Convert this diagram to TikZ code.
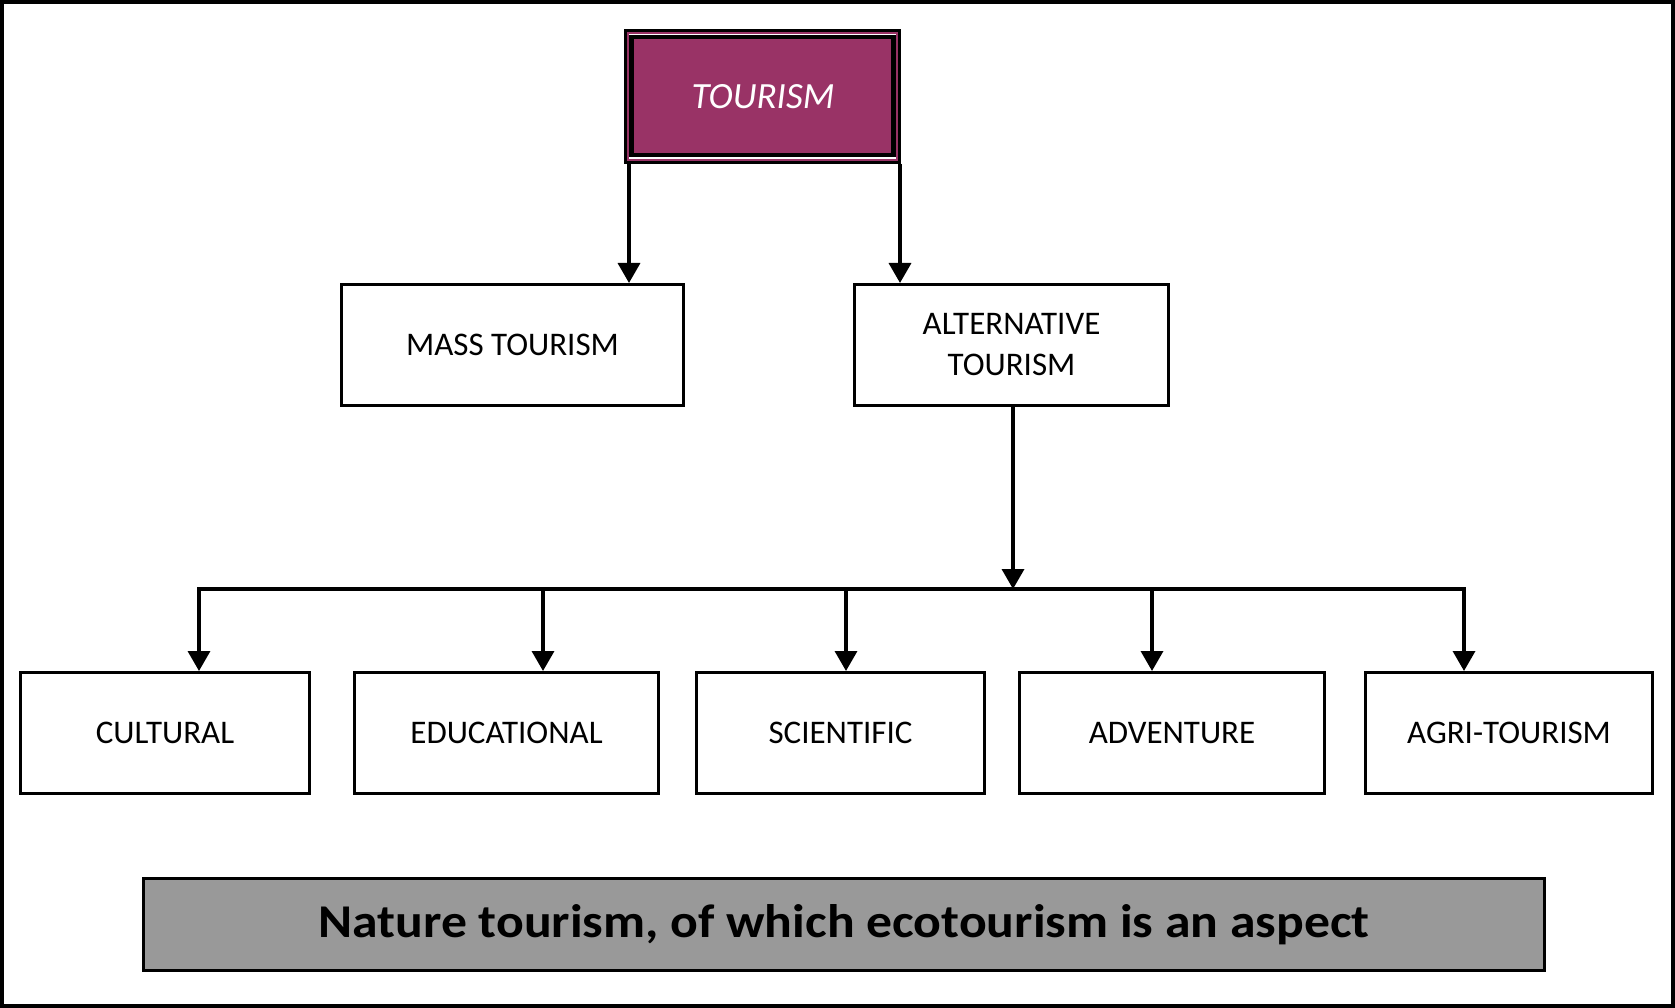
\documentclass[tikz,border=0pt]{standalone}
\usepackage{fontspec}
\setmainfont{Carlito}
\newfontfamily\widebold[FakeStretch=1.1]{Carlito Bold}
\usetikzlibrary{arrows.meta}
\definecolor{plum}{RGB}{153,51,102}
\definecolor{boxgray}{RGB}{153,153,153}
\begin{document}
\begin{tikzpicture}[x=1pt,y=-1pt,
  box/.style={draw=black,line width=3pt,fill=white,inner sep=0pt,align=center,
    font=\fontsize{33}{41}\selectfont},
  conn/.style={line width=3.5pt},
  arr/.style={conn,-{Triangle[length=20pt,width=22pt]}}]
\useasboundingbox (0,0) rectangle (1675,1008);
\draw[line width=4pt] (2,2) rectangle (1673,1006);
% TOURISM
\node[draw=black,line width=3pt,fill=white,minimum width=274pt,minimum height=132pt,inner sep=0pt] (tour) at (762.5,96.5) {};
\draw[plum,line width=1.5pt] ([shift={(4,4)}]tour.north west) rectangle ([shift={(-4,-4)}]tour.south east);
\draw[black,line width=4.5pt,fill=plum] ([shift={(7.5,8)}]tour.north west) rectangle ([shift={(-7.5,-9)}]tour.south east);
\node[text=white,font=\fontsize{37}{44}\selectfont\itshape] (tourtxt) at (763,97) {TOURISM};
% second level
\node[box,minimum width=342pt,minimum height=121pt] (mass) at (512.5,345) {MASS TOURISM};
\node[box,minimum width=314pt,minimum height=121pt] (alt) at (1011.5,345) {ALTERNATIVE\\TOURISM};
% third level
\node[box,minimum width=289pt,minimum height=121pt] (cul) at (165,733) {CULTURAL};
\node[box,minimum width=304pt,minimum height=121pt] (edu) at (506.5,733) {EDUCATIONAL};
\node[box,minimum width=288pt,minimum height=121pt] (sci) at (840.5,733) {SCIENTIFIC};
\node[box,minimum width=305pt,minimum height=121pt] (adv) at (1172,733) {ADVENTURE};
\node[box,minimum width=287pt,minimum height=121pt] (agr) at (1509,733) {AGRI-TOURISM};
% bottom banner
\node[draw=black,line width=3pt,fill=boxgray,minimum width=1401pt,minimum height=92pt,inner sep=0pt,
  font=\fontsize{47}{54}\widebold] (nat) at (844,924.5) {\raisebox{-4pt}{Nature tourism, of which ecotourism is an aspect}};
% connectors from TOURISM
\draw[arr] ([xshift=5pt]tour.south west) -- ([xshift=5pt]tour.south west |- mass.north);
\draw[arr] ([xshift=-1pt]tour.south east) -- ([xshift=-1pt]tour.south east |- alt.north);
% bar
\coordinate (j0) at (1013,589);
\coordinate (j1) at (199,589);
\coordinate (j2) at (543,589);
\coordinate (j3) at (846,589);
\coordinate (j4) at (1152,589);
\coordinate (j5) at (1464,589);
\draw[arr] (alt.south -| j0) -- (j0);
\draw[conn,line cap=rect] (j1) -- (j5);
\draw[arr] (j1) -- (j1 |- cul.north);
\draw[arr] (j2) -- (j2 |- edu.north);
\draw[arr] (j3) -- (j3 |- sci.north);
\draw[arr] (j4) -- (j4 |- adv.north);
\draw[arr] (j5) -- (j5 |- agr.north);
\end{tikzpicture}
\end{document}
